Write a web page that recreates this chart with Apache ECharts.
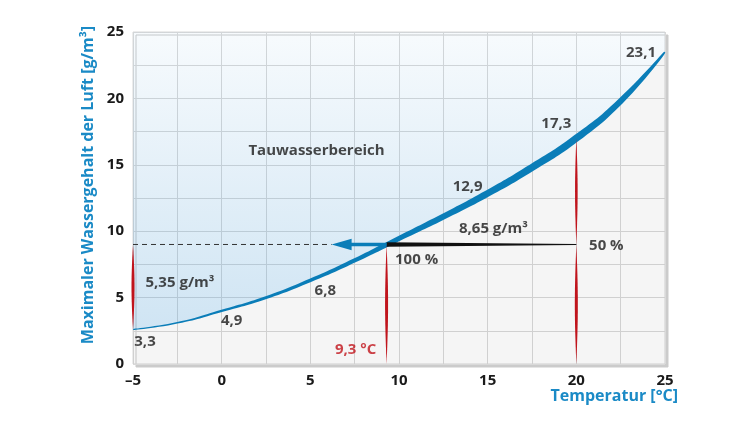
<!DOCTYPE html>
<html>
<head>
<meta charset="utf-8">
<script src="https://cdn.jsdelivr.net/npm/echarts@6/dist/echarts.min.js"></script>
<style>
  html, body { margin: 0; padding: 0; background: #ffffff; }
  #chart { width: 750px; height: 422px; }
</style>
</head>
<body>
<div id="chart"></div>
<script>
// ---------- data ----------
const temps = [-5, -2.5, 0, 2.5, 5, 7.5, 10, 12.5, 15, 17.5, 20, 22.5, 25];
const maxWater = [2.6, 3.1, 4.0, 5.0, 6.3, 7.8, 9.45, 11.1, 12.85, 14.8, 17.0, 19.8, 23.5];

const valueLabelTemps = [-5, 0, 5, 15, 20, 25];
const valueLabelTexts = ['3,3', '4,9', '6,8', '12,9', '17,3', '23,1'];

const startTemp = -5;        // left edge of the example
const dewTemp = 9.3;         // dew point
const roomTemp = 20;         // room temperature
const humidLevel = 9.0;      // height of the 8,65 g/m³ line as drawn
const arrowTipTemp = 6.2;    // tip of the blue arrow

const xTicks = [-5, 0, 5, 10, 15, 20, 25];
const yTicks = [0, 5, 10, 15, 20, 25];

const annotationTexts = ['Tauwasserbereich', '8,65 g/m³', '50 %', '100 %', '5,35 g/m³', '9,3 °C'];
const annotationAnchors = [
  [5.35, 16.05],
  [(dewTemp + roomTemp) / 2, humidLevel],
  [roomTemp, humidLevel],
  [dewTemp, humidLevel],
  [startTemp, 5.8],
  [dewTemp, 0]
];

// ---------- styles ----------
const BLUE = '#0a7db8';
const AXIS_BLUE = '#1a8ac6';
const RED = '#c0141c';
const TEXT = '#1a1a1a';
const FONT = '"Open Sans", "DejaVu Sans", sans-serif';
const SMOOTH = 0.5;
const curveWidthPx = [1.0, 1.6, 2.3, 2.9, 3.5, 4.2, 5.0, 6.0, 6.8, 7.2, 7.2, 6.0, 1.2];
const valueLabelOffsets = [[12, 12], [10, 10], [15, 10], [-20, -7], [-20, -15], [-24, 1]];
const annotationOffsets = [[0, 0], [12, -16], [30, 1], [30, 15], [47, -4], [-31, -14]];

// shapes drawn by the custom series
const shapes = [
  { kind: 'band' },
  { kind: 'taper', from: [dewTemp, humidLevel], to: [roomTemp, humidLevel], w0: 4.4, w1: 1.0, color: '#111111' },
  { kind: 'arrow', from: [dewTemp, humidLevel], to: [arrowTipTemp, humidLevel], color: BLUE },
  { kind: 'lens', from: [startTemp, maxWater[0]], to: [startTemp, humidLevel], w: 3, color: RED },
  { kind: 'lens', from: [dewTemp, 0], to: [dewTemp, humidLevel], w: 3, color: RED },
  { kind: 'lens', from: [roomTemp, 0], to: [roomTemp, humidLevel], w: 3, color: RED },
  { kind: 'lens', from: [roomTemp, humidLevel], to: [roomTemp, maxWater[temps.indexOf(roomTemp)]], w: 2.6, color: RED }
];

// same bezier construction as the line series' smoothing, sampled for the variable-width band
function bandPolygon(c) {
  const n = c.length, cpN = [], cpP = [];
  for (let i = 0; i < n; i++) {
    if (i === 0 || i === n - 1) { cpN.push(c[i]); cpP.push(c[i]); continue; }
    const p0 = c[i - 1], p1 = c[i], p2 = c[i + 1];
    const vx = p2[0] - p0[0], vy = p2[1] - p0[1];
    const d0 = Math.hypot(p1[0] - p0[0], p1[1] - p0[1]);
    const d1 = Math.hypot(p2[0] - p1[0], p2[1] - p1[1]);
    const r = d1 / (d0 + d1);
    cpN.push([p1[0] + vx * SMOOTH * r, p1[1] + vy * SMOOTH * r]);
    cpP.push([p1[0] - vx * SMOOTH * (1 - r), p1[1] - vy * SMOOTH * (1 - r)]);
  }
  const up = [], low = [], S = 14;
  for (let i = 0; i < n - 1; i++) {
    const P0 = c[i], P1 = cpN[i], P2 = cpP[i + 1], P3 = c[i + 1];
    for (let k = (i === 0 ? 0 : 1); k <= S; k++) {
      const t = k / S, u = 1 - t;
      const x = u*u*u*P0[0] + 3*u*u*t*P1[0] + 3*u*t*t*P2[0] + t*t*t*P3[0];
      const y = u*u*u*P0[1] + 3*u*u*t*P1[1] + 3*u*t*t*P2[1] + t*t*t*P3[1];
      let dx = 3*u*u*(P1[0]-P0[0]) + 6*u*t*(P2[0]-P1[0]) + 3*t*t*(P3[0]-P2[0]);
      let dy = 3*u*u*(P1[1]-P0[1]) + 6*u*t*(P2[1]-P1[1]) + 3*t*t*(P3[1]-P2[1]);
      const len = Math.hypot(dx, dy) || 1; dx /= len; dy /= len;
      const h = (curveWidthPx[i] + (curveWidthPx[i + 1] - curveWidthPx[i]) * t) / 2;
      up.push([x + dy * h, y - dx * h]);
      low.push([x - dy * h, y + dx * h]);
    }
  }
  return up.concat(low.reverse());
}

function renderShape(params, api) {
  const s = shapes[params.dataIndex];
  if (s.kind === 'band') {
    const c = temps.map((t, i) => api.coord([t, maxWater[i]]));
    return { type: 'polygon', shape: { points: bandPolygon(c) }, style: { fill: BLUE } };
  }
  if (s.kind === 'taper') {
    const a = api.coord(s.from), b = api.coord(s.to);
    return { type: 'polygon', shape: { points: [
      [a[0], a[1] - s.w0 / 2], [b[0], b[1] - s.w1 / 2], [b[0], b[1] + s.w1 / 2], [a[0], a[1] + s.w0 / 2]
    ] }, style: { fill: s.color } };
  }
  if (s.kind === 'arrow') {
    const tail = api.coord(s.from), tip = api.coord(s.to);
    let dx = tip[0] - tail[0], dy = tip[1] - tail[1];
    const len = Math.hypot(dx, dy) || 1; dx /= len; dy /= len;
    const nx = -dy, ny = dx;
    const L = 20, hh = 5.8, sh = 1.7;
    const bx = tip[0] - dx * L, by = tip[1] - dy * L;
    return { type: 'polygon', shape: { points: [
      [tail[0] + nx * sh, tail[1] + ny * sh], [bx + nx * sh, by + ny * sh], [bx + nx * hh, by + ny * hh],
      [tip[0], tip[1]],
      [bx - nx * hh, by - ny * hh], [bx - nx * sh, by - ny * sh], [tail[0] - nx * sh, tail[1] - ny * sh]
    ] }, style: { fill: s.color } };
  }
  if (s.kind === 'lens') {
    const a = api.coord(s.from), b = api.coord(s.to);
    const N = 24, left = [], right = [];
    for (let k = 0; k <= N; k++) {
      const t = k / N;
      const y = a[1] + (b[1] - a[1]) * t;
      const x = a[0] + (b[0] - a[0]) * t;
      const hw = (s.w / 2) * Math.sin(Math.PI * t);
      left.push([x - hw, y]);
      right.push([x + hw, y]);
    }
    return { type: 'polygon', shape: { points: left.concat(right.reverse()) }, style: { fill: s.color } };
  }
  return null;
}

const curvePairs = temps.map((t, i) => [t, maxWater[i]]);
const labelStyle = { color: TEXT, fontSize: 15, fontFamily: FONT, fontWeight: 'bold' };

const chart = echarts.init(document.getElementById('chart'), null, { renderer: 'canvas' });
chart.setOption({
  animation: false,
  grid: {
    left: 133, right: 85, top: 32, bottom: 58, show: true,
    backgroundColor: '#ffffff', borderColor: '#d9d9d9', borderWidth: 1,
    shadowColor: '#cbcbcb', shadowOffsetX: 3, shadowOffsetY: 3, shadowBlur: 0
  },
  xAxis: {
    type: 'value', min: -5, max: 25, interval: 2.5,
    name: 'Temperatur [°C]', nameLocation: 'end', nameGap: 13,
    nameTextStyle: { color: AXIS_BLUE, fontSize: 16, fontFamily: FONT, fontWeight: 'bold', align: 'right', verticalAlign: 'top', padding: [24, 0, 0, 0] },
    axisLine: { show: false }, axisTick: { show: false },
    axisLabel: {
      margin: 9, color: TEXT, fontSize: 15, fontFamily: FONT, fontWeight: 'bold',
      formatter: v => xTicks.indexOf(v) < 0 ? '' : (v < 0 ? '–' + Math.abs(v) : String(v))
    },
    splitLine: { show: true, lineStyle: { color: '#d9d9d9', width: 1 } }
  },
  yAxis: {
    type: 'value', min: 0, max: 25, interval: 2.5,
    name: 'Maximaler Wassergehalt der Luft [g/m³]', nameLocation: 'middle', nameGap: 35, nameRotate: 90,
    nameTextStyle: { color: AXIS_BLUE, fontSize: 16, fontFamily: FONT, fontWeight: 'bold', padding: [0, 0, 0, 26] },
    axisLine: { show: false }, axisTick: { show: false },
    axisLabel: {
      margin: 9, color: TEXT, fontSize: 15, fontFamily: FONT, fontWeight: 'bold',
      formatter: v => yTicks.indexOf(v) < 0 ? '' : String(v)
    },
    splitLine: { show: true, lineStyle: { color: '#d9d9d9', width: 1 } }
  },
  series: [
    {
      name: 'below', type: 'line', data: curvePairs, smooth: SMOOTH, symbol: 'none', silent: true, z: 1,
      lineStyle: { width: 0 }, areaStyle: { origin: 'start', color: 'rgba(0,0,0,0.055)' }
    },
    {
      name: 'above', type: 'line', data: curvePairs, smooth: SMOOTH, symbol: 'none', silent: true, z: 1,
      lineStyle: { width: 0 },
      areaStyle: {
        origin: 'end',
        color: new echarts.graphic.LinearGradient(0, 0, 0, 1, [
          { offset: 0, color: 'rgba(30,130,200,0.05)' },
          { offset: 1, color: 'rgba(30,130,200,0.30)' }
        ])
      }
    },
    {
      name: 'dashed', type: 'line', data: [[startTemp, humidLevel], [arrowTipTemp, humidLevel]],
      symbol: 'none', silent: true, z: 3,
      lineStyle: { color: '#333333', width: 1, type: [5, 4] }
    },
    {
      name: 'shapes', type: 'custom', renderItem: renderShape, silent: true, clip: false, z: 4,
      data: shapes.map((s, i) => [startTemp, 0, i])
    },
    {
      name: 'valueLabels', type: 'scatter', symbolSize: 0, silent: true, z: 5,
      data: valueLabelTemps.map((t, i) => ({
        value: [t, maxWater[temps.indexOf(t)]],
        label: { offset: valueLabelOffsets[i] }
      })),
      label: Object.assign({ show: true, position: 'inside', formatter: p => valueLabelTexts[p.dataIndex] }, labelStyle)
    },
    {
      name: 'annotations', type: 'scatter', symbolSize: 0, silent: true, z: 5,
      data: annotationAnchors.map((a, i) => ({
        value: a,
        label: { offset: annotationOffsets[i], color: annotationTexts[i].indexOf('°C') >= 0 ? RED : TEXT }
      })),
      label: Object.assign({}, labelStyle, { show: true, position: 'inside', formatter: p => annotationTexts[p.dataIndex] })
    }
  ]
});
</script>
</body>
</html>
